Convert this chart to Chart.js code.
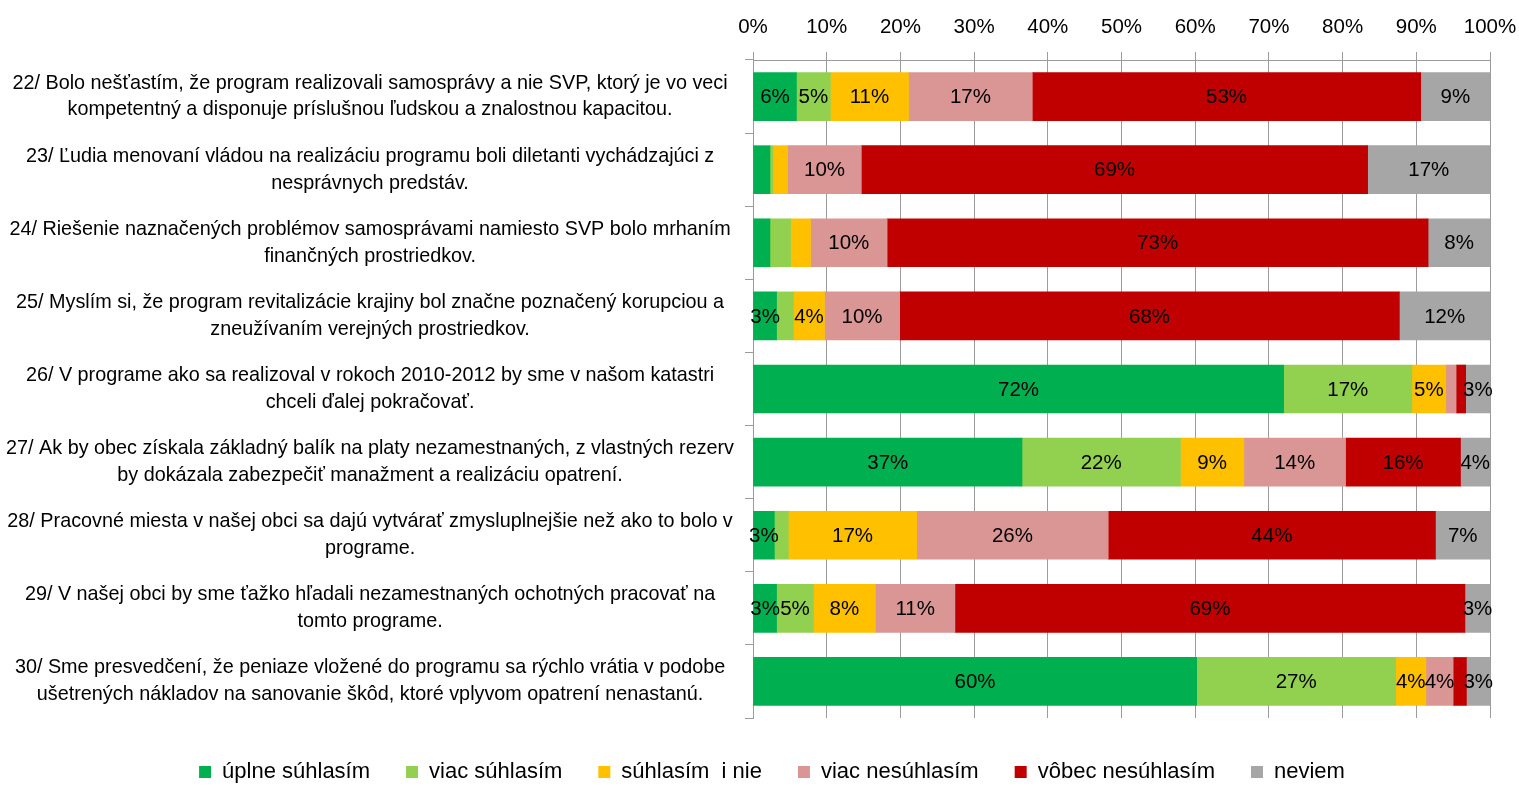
<!DOCTYPE html>
<html>
<head>
<meta charset="utf-8">
<script src="https://cdn.jsdelivr.net/npm/chart.js@4"></script>
<style>
  html, body { margin: 0; padding: 0; background: #fff; }
</style>
</head>
<body>
<canvas id="likertChart" width="1519" height="802"></canvas>
<script>
// statements (two lines each, as in the source chart)
const statements = [
  ["22/ Bolo nešťastím, že program realizovali samosprávy a nie SVP, ktorý je vo veci", "kompetentný a disponuje príslušnou ľudskou a znalostnou kapacitou."],
  ["23/ Ľudia menovaní vládou na realizáciu programu boli diletanti vychádzajúci z", "nesprávnych predstáv."],
  ["24/ Riešenie naznačených problémov samosprávami namiesto SVP bolo mrhaním", "finančných prostriedkov."],
  ["25/ Myslím si, že program revitalizácie krajiny bol značne poznačený korupciou a", "zneužívaním verejných prostriedkov."],
  ["26/ V programe ako sa realizoval v rokoch 2010-2012 by sme v našom katastri", "chceli ďalej pokračovať."],
  ["27/ Ak by obec získala základný balík na platy nezamestnaných, z vlastných rezerv", "by dokázala zabezpečiť manažment a realizáciu opatrení."],
  ["28/ Pracovné miesta v našej obci sa dajú vytvárať zmysluplnejšie než ako to bolo v", "programe."],
  ["29/ V našej obci by sme ťažko hľadali nezamestnaných ochotných pracovať na", "tomto programe."],
  ["30/ Sme presvedčení, že peniaze vložené do programu sa rýchlo vrátia v podobe", "ušetrených nákladov na sanovanie škôd, ktoré vplyvom opatrení nenastanú."]
];

const seriesNames = ["úplne súhlasím", "viac súhlasím", "súhlasím  i nie", "viac nesúhlasím", "vôbec nesúhlasím", "neviem"];

// shares in % (rows 22..30)
const fullyAgree     = [5.9, 2.3, 2.3, 3.2, 72.0, 36.5, 2.9, 3.2, 60.2];
const ratherAgree    = [4.6, 0.4, 2.8, 2.3, 17.4, 21.5, 1.9, 5.0, 27.0];
const neutral        = [10.6, 2.0, 2.7, 4.2, 4.6, 8.6, 17.4, 8.4, 4.1];
const ratherDisagree = [16.8, 10.0, 10.4, 10.2, 1.4, 13.8, 26.0, 10.8, 3.7];
const fullyDisagree  = [52.7, 68.7, 73.4, 67.8, 1.3, 15.6, 44.4, 69.2, 1.8];
const dontKnow       = [9.4, 16.6, 8.4, 12.3, 3.3, 4.0, 7.4, 3.4, 3.2];

const percentTicks = [0, 10, 20, 30, 40, 50, 60, 70, 80, 90, 100];

const seriesColors = ["#00b050", "#92d050", "#ffc000", "#d99694", "#c00000", "#a6a6a6"];

// values below this get no label (as in the original)
const labelMin = 2.85;

const family = '"Liberation Sans", Arial, sans-serif';
const gridGray = "#9c9c9c";

const segmentLabels = {
  id: "segmentLabels",
  afterDatasetsDraw(chart) {
    const ctx = chart.ctx;
    ctx.save();
    ctx.font = `20.5px ${family}`;
    ctx.fillStyle = "#000";
    ctx.textAlign = "center";
    ctx.textBaseline = "middle";
    chart.data.datasets.forEach((ds, i) => {
      chart.getDatasetMeta(i).data.forEach((bar, j) => {
        const v = ds.data[j];
        if (v < labelMin) return;
        const p = bar.getProps(["x", "y", "base"], true);
        ctx.fillText(Math.round(v) + "%", (p.x + p.base) / 2, p.y + 1);
      });
    });
    ctx.restore();
  }
};

// legend in the original sits a bit right of the plot centre
const legendShift = {
  id: "legendShift",
  afterLayout(chart) {
    chart.legend.left += 27;
    chart.legend.right += 27;
  }
};

const allSeries = [fullyAgree, ratherAgree, neutral, ratherDisagree, fullyDisagree, dontKnow];

new Chart(document.getElementById("likertChart"), {
  type: "bar",
  data: {
    labels: statements,
    datasets: allSeries.map((vals, i) => ({
      label: seriesNames[i],
      data: vals,
      backgroundColor: seriesColors[i],
      borderWidth: 0,
      barThickness: 48
    }))
  },
  options: {
    indexAxis: "y",
    responsive: false,
    animation: false,
    devicePixelRatio: 1,
    layout: { padding: { top: 8, right: 29, bottom: 9, left: 0 } },
    scales: {
      x: {
        type: "linear",
        position: "top",
        stacked: true,
        min: 0,
        max: 100,
        afterBuildTicks: (scale) => {
          scale.ticks = percentTicks.map((v) => ({ value: v }));
        },
        afterFit: (scale) => { scale.height = 52; },
        ticks: {
          callback: (v) => v + "%",
          color: "#000",
          font: { family: family, size: 20.5, lineHeight: 2.34 },
          padding: 1
        },
        grid: { color: gridGray, tickLength: 8, drawTicks: true },
        border: { color: gridGray }
      },
      y: {
        stacked: true,
        afterFit: (scale) => { scale.width = 753; },
        ticks: {
          crossAlign: "center",
          color: "#000",
          font: { family: family, size: 19.8, lineHeight: 1.36 },
          padding: 11
        },
        grid: { drawOnChartArea: false, offset: true, tickLength: 8, color: gridGray },
        border: { color: gridGray }
      }
    },
    plugins: {
      legend: {
        position: "bottom",
        title: { display: true, text: "", font: { size: 1, lineHeight: 1 }, padding: { top: 6, bottom: 0 } },
        labels: {
          boxWidth: 12,
          boxHeight: 12,
          padding: 36,
          color: "#000",
          font: { family: family, size: 22 }
        }
      },
      tooltip: { enabled: false }
    }
  },
  plugins: [segmentLabels, legendShift]
});
</script>
</body>
</html>
